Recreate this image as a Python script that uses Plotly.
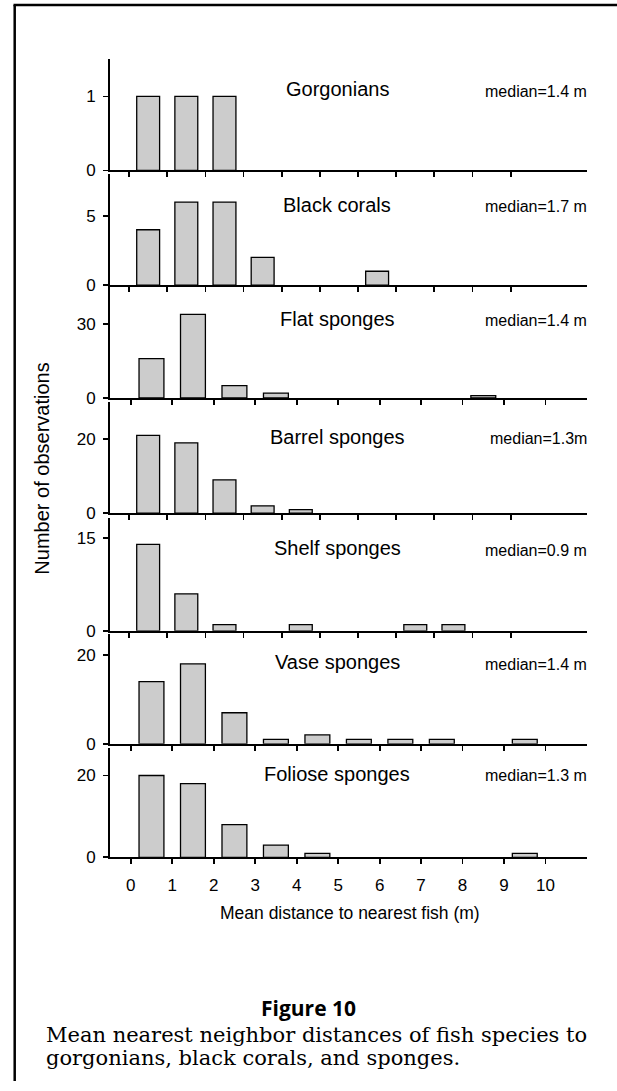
import plotly.graph_objects as go

# ---------------- data ----------------
bin_centers = [0.5, 1.5, 2.5, 3.5, 4.5, 5.5, 6.5, 7.5, 8.5, 9.5]
x_tick_vals = [0, 1, 2, 3, 4, 5, 6, 7, 8, 9, 10]
x_tick_text = ["0", "1", "2", "3", "4", "5", "6", "7", "8", "9", "10"]

panel_names = ["Gorgonians", "Black corals", "Flat sponges", "Barrel sponges",
               "Shelf sponges", "Vase sponges", "Foliose sponges"]
medians = ["median=1.4 m", "median=1.7 m", "median=1.4 m", "median=1.3m",
           "median=0.9 m", "median=1.4 m", "median=1.3 m"]

gorgonians = [1, 1, 1, 0, 0, 0, 0, 0, 0, 0]
black_corals = [4, 6, 6, 2, 0, 0, 1, 0, 0, 0]
flat_sponges = [16, 34, 5, 2, 0, 0, 0, 0, 1, 0]
barrel_sponges = [21, 19, 9, 2, 1, 0, 0, 0, 0, 0]
shelf_sponges = [14, 6, 1, 0, 1, 0, 0, 1, 1, 0]
vase_sponges = [14, 18, 7, 1, 2, 1, 1, 1, 0, 1]
foliose_sponges = [20, 18, 8, 3, 1, 0, 0, 0, 0, 1]

y_ticks = [[0, 1], [0, 5], [0, 30], [0, 20], [0, 15], [0, 20], [0, 20]]
y_max = [1.5, 8, 45, 30, 18.3, 24.7, 26.7]
x_max = [12, 12, 11, 12, 12, 11, 11]

x_title = "Mean distance to nearest fish (m)"
y_title = "Number of observations"
fig_label = "Figure 10"
caption_lines = ["Mean nearest neighbor distances of fish species to",
                 "gorgonians, black corals, and sponges."]

series = [gorgonians, black_corals, flat_sponges, barrel_sponges,
          shelf_sponges, vase_sponges, foliose_sponges]

# ---------------- layout helpers ----------------
W, H = 617, 1091
panel_px = [(60, 172), (176, 287.7), (290, 401.7), (405.7, 518),
            (522.7, 636.7), (640, 750.7), (755, 865.3)]
title_px = [90, 206.7, 321.7, 440.7, 553.3, 668.3, 780.7]
x_left_px, x_right_px = 110, 587


def px(xp):
    return xp / W


def py(yp):
    return 1 - yp / H


SANS = "Liberation Sans, Arial, Helvetica, sans-serif"

fig = go.Figure()
layout = dict(
    width=W, height=H,
    margin=dict(l=0, r=0, t=0, b=0),
    paper_bgcolor="white", plot_bgcolor="white",
    showlegend=False,
    bargap=0,
    font=dict(family=SANS, color="black"),
)

annotations = []
n = len(series)
for i, vals in enumerate(series):
    k = "" if i == 0 else str(i + 1)
    fig.add_trace(go.Bar(
        x=bin_centers,
        y=[v if v > 0 else None for v in vals],
        width=0.6,
        marker=dict(color="#cccccc", line=dict(color="black", width=1.3)),
        xaxis="x" + k, yaxis="y" + k,
        hoverinfo="skip",
    ))
    top, bot = panel_px[i]
    last = (i == n - 1)
    layout["xaxis" + k] = dict(
        domain=[px(x_left_px), px(x_right_px)],
        range=[-0.5, x_max[i]],
        anchor="y" + k,
        showline=True, linecolor="black", linewidth=2,
        ticks="outside", ticklen=5, tickwidth=1.8, tickcolor="black",
        tickvals=x_tick_vals, ticktext=x_tick_text,
        showticklabels=last,
        ticklabelstandoff=6,
        tickfont=dict(size=17, family=SANS, color="black"),
        showgrid=False, zeroline=False, fixedrange=True,
    )
    layout["yaxis" + k] = dict(
        domain=[py(bot), py(top)],
        range=[0, y_max[i]],
        anchor="x" + k,
        showline=True, linecolor="black", linewidth=2,
        ticks="outside", ticklen=5, tickwidth=1.8, tickcolor="black",
        tickvals=y_ticks[i],
        tickfont=dict(size=17, family=SANS, color="black"),
        ticklabelstandoff=4,
        showgrid=False, zeroline=False, fixedrange=True,
    )
    annotations.append(dict(
        x=px(337), y=py(title_px[i]), xref="paper", yref="paper",
        text=panel_names[i], showarrow=False, xanchor="center", yanchor="middle",
        font=dict(size=20, family=SANS, color="black"),
    ))
    annotations.append(dict(
        x=px(589), y=py(title_px[i] + 2), xref="paper", yref="paper",
        text=medians[i], showarrow=False, xanchor="right", yanchor="middle",
        font=dict(size=16, family=SANS, color="black"),
    ))

# axis titles
annotations.append(dict(
    x=px(350), y=py(921), xref="paper", yref="paper", text=x_title,
    showarrow=False, xanchor="center", yanchor="middle",
    font=dict(size=17.5, family=SANS, color="black"),
))
annotations.append(dict(
    x=px(42), y=py(473), xref="paper", yref="paper", text=y_title,
    showarrow=False, xanchor="center", yanchor="middle", textangle=-90,
    font=dict(size=20, family=SANS, color="black"),
))
# figure label and caption
annotations.append(dict(
    x=px(308), y=py(1017), xref="paper", yref="paper", text="<b>" + fig_label + "</b>",
    showarrow=False, xanchor="center", yanchor="middle",
    font=dict(size=21, family="Open Sans, Noto Sans, sans-serif", color="black"),
))
for j, line in enumerate(caption_lines):
    annotations.append(dict(
        x=px(44), y=py(1045 + 22.5 * j), xref="paper", yref="paper", text=line,
        showarrow=False, xanchor="left", yanchor="middle",
        font=dict(size=21, family="DejaVu Serif, serif", color="black"),
    ))

layout["annotations"] = annotations
layout["shapes"] = [
    dict(type="line", xref="paper", yref="paper",
         x0=px(14.7), x1=px(14.7), y0=0, y1=py(5), line=dict(color="black", width=2.5)),
    dict(type="line", xref="paper", yref="paper",
         x0=px(13.5), x1=1, y0=py(5), y1=py(5), line=dict(color="black", width=2.5)),
]

fig.update_layout(**layout)
fig.write_html(
    "out.html",
    config={"displayModeBar": False, "staticPlot": True},
    post_script="document.body.style.margin='0';document.body.style.padding='0';"
                "document.body.style.overflow='hidden';",
)
